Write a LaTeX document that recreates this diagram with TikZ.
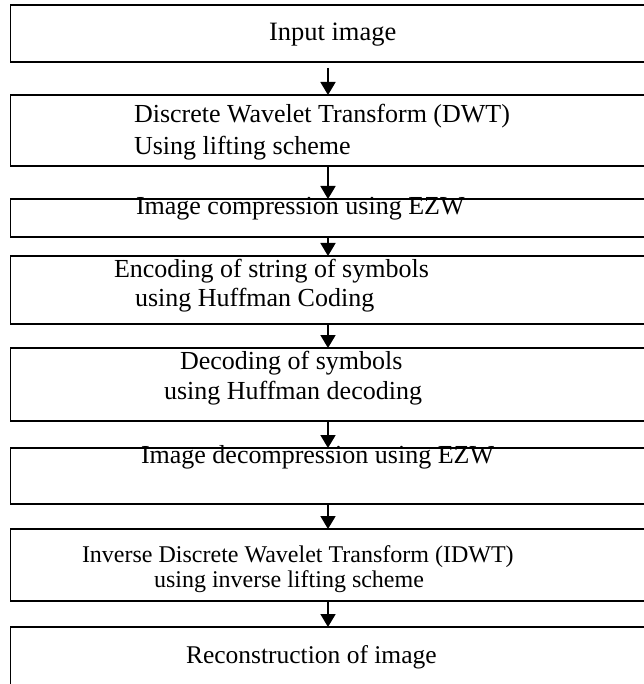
\documentclass[tikz,border=0pt]{standalone}
\usepackage{fontspec}
\setmainfont{Liberation Serif}
\usetikzlibrary{arrows.meta}
\begin{document}
\begin{tikzpicture}[x=1pt,y=-1pt,
  stagebox/.style={draw=black,line width=1.8pt,rectangle,inner sep=0pt,outer sep=0pt,minimum width=649.5pt},
  lbl/.style={anchor=base west,inner sep=0pt,outer sep=0pt,font=\fontsize{26}{30}\selectfont},
  lblsmall/.style={lbl,font=\fontsize{24}{28}\selectfont},
  flow/.style={line width=1.8pt,-{Triangle[width=15pt,length=13pt]}}]
\useasboundingbox (0,0) rectangle (643,684);
\fill[white] (0,0) rectangle (643,684);
% boxes
\node[stagebox,minimum height=57pt] (b1) at (335.25,33.5) {};
\node[stagebox,minimum height=71pt] (b2) at (335.25,130.5) {};
\node[stagebox,minimum height=38pt] (b3) at (335.25,218) {};
\node[stagebox,minimum height=68pt] (b4) at (335.25,290) {};
\node[stagebox,minimum height=73pt] (b5) at (335.25,384.5) {};
\node[stagebox,minimum height=56pt] (b6) at (335.25,476) {};
\node[stagebox,minimum height=72pt] (b7) at (335.25,565) {};
\node[stagebox,minimum height=73pt] (b8) at (335.25,663.5) {};
% texts
\node[lbl,font=\fontsize{26.5}{30}\selectfont] (t1) at (269,41) {Input image};
\node[lbl] (t2a) at (134,123) {Discrete Wavelet Transform (DWT)};
\node[lbl] (t2b) at (134,155) {Using lifting scheme};
\node[lbl] (t3) at (136,215) {Image compression using EZW};
\node[lbl] (t4a) at (114,277) {Encoding of string of symbols};
\node[lbl] (t4b) at (135,306) {using Huffman Coding};
\node[lbl] (t5a) at (180,369) {Decoding of symbols};
\node[lbl] (t5b) at (164,399) {using Huffman decoding};
\node[lbl] (t6) at (141,463) {Image decompression using EZW};
\node[lblsmall] (t7a) at (82,562) {Inverse Discrete Wavelet Transform (IDWT)};
\node[lblsmall] (t7b) at (154,587) {using inverse lifting scheme};
\node[lbl,font=\fontsize{25.5}{30}\selectfont] (t8) at (186,663) {Reconstruction of image};
% connectors
\coordinate (ax) at (328,0);
\coordinate (a1s) at (328,68);
\draw[flow] (a1s) -- (b2.north -| ax);
\draw[flow] (b2.south -| ax) -- (b3.north -| ax);
\draw[flow] (b3.south -| ax) -- (b4.north -| ax);
\draw[flow] (b4.south -| ax) -- (b5.north -| ax);
\draw[flow] (b5.south -| ax) -- (b6.north -| ax);
\draw[flow] (b6.south -| ax) -- (b7.north -| ax);
\draw[flow] (b7.south -| ax) -- (b8.north -| ax);
\end{tikzpicture}
\end{document}
